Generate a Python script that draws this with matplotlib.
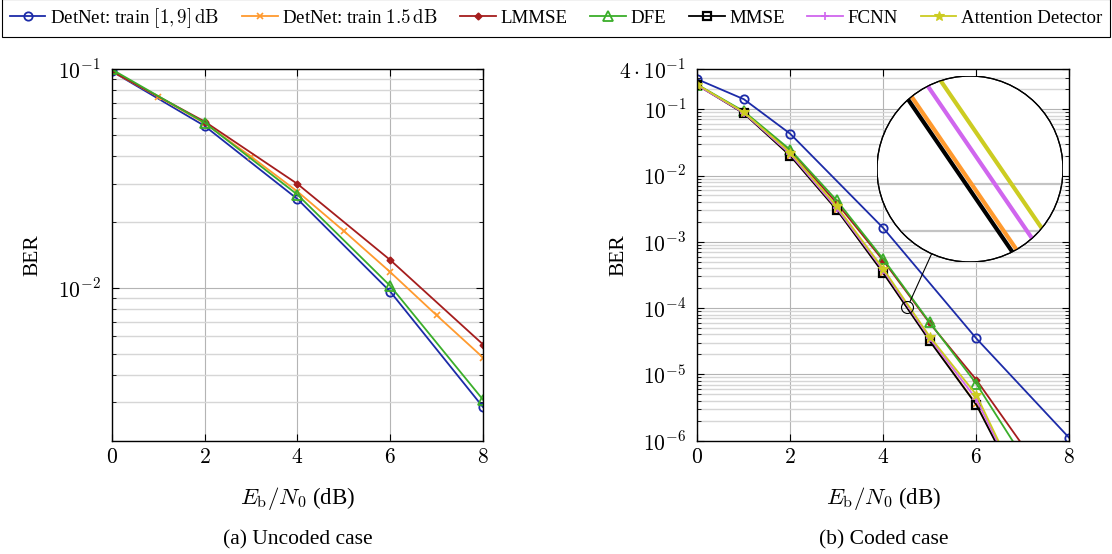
import matplotlib.pyplot as plt
import numpy as np
from matplotlib.lines import Line2D
from matplotlib.patches import Circle
from matplotlib.ticker import LogLocator, FixedLocator, FixedFormatter, NullFormatter, FuncFormatter

plt.rcParams['font.family'] = ['Liberation Serif', 'DejaVu Serif']
plt.rcParams['mathtext.fontset'] = 'cm'
plt.rcParams['font.size'] = 13

labels = ['DetNet: train $[1, 9]\\,\\mathrm{dB}$', 'DetNet: train $1.5\\,\\mathrm{dB}$',
          'LMMSE', 'DFE', 'MMSE', 'FCNN', 'Attention Detector']

# uncoded case
snr_even = [0, 2, 4, 6, 8]
snr_unc_all = [0, 1, 2, 3, 4, 5, 6, 7, 8]
unc_detnet_wide = [0.098, 0.0551, 0.0255, 0.0096, 0.00284]
unc_detnet_15 = [0.098, 0.075, 0.0567, 0.0399, 0.0276, 0.0182, 0.0118, 0.00748, 0.00479]
unc_lmmse = [0.098, 0.0577, 0.0299, 0.0134, 0.0055]
unc_dfe = [0.1, 0.057, 0.0267, 0.0102, 0.00307]

# coded case
snr_cod_detnet = [0, 1, 2, 4, 6, 8]
snr_cod = [0, 1, 2, 3, 4, 5, 6, 7]
cod_detnet_wide = [0.283, 0.1416, 0.0425, 1.61e-3, 3.49e-5, 1.1e-6]
cod_detnet_15 = [0.232, 0.0875, 0.0200, 3.06e-3, 3.42e-4, 3.25e-5, 3.55e-6, 1.6e-7]
cod_lmmse = [0.232, 0.090, 0.0232, 3.83e-3, 5.2e-4, 5.9e-5, 8.3e-6, 8.5e-7]
cod_dfe = [0.235, 0.093, 0.0244, 4.2e-3, 5.48e-4, 6.08e-5, 7.23e-6, 5.7e-7]
cod_mmse = [0.231, 0.0865, 0.0198, 3.03e-3, 3.37e-4, 3.18e-5, 3.49e-6, 1.53e-7]
cod_fcnn = [0.229, 0.088, 0.021, 3.2e-3, 3.7e-4, 3.5e-5, 4.25e-6, 1.6e-7]
cod_attention = [0.235, 0.090, 0.0222, 3.41e-3, 3.9e-4, 3.7e-5, 4.93e-6, 1.7e-7]

styles = [
    dict(color='#1c2ba8', marker='o', mfc='none', ms=6, mew=1.3),
    dict(color='#ff9a2e', marker='x', ms=4, mew=1.2),
    dict(color='#a51d1d', marker='D', ms=3.5, mew=1.0),
    dict(color='#3aae2a', marker='^', mfc='none', ms=7.5, mew=1.3),
    dict(color='black', marker='s', mfc='none', ms=6, mew=1.6),
    dict(color='#d066ee', marker='+', ms=5.5, mew=1.2),
    dict(color='#cccc22', marker='*', ms=7.5, mew=0.8),
]

fig = plt.figure(figsize=(11.12, 5.54), dpi=100)
ax1 = fig.add_axes([0.1004, 0.2045, 0.3342, 0.6704])
ax2 = fig.add_axes([0.6271, 0.2045, 0.3345, 0.6704])

unc = [(snr_even, unc_detnet_wide), (snr_unc_all, unc_detnet_15),
       (snr_even, unc_lmmse), (snr_even, unc_dfe)]
for i, (x, y) in enumerate(unc):
    ax1.plot(x, y, lw=1.3, label=labels[i], **styles[i])

cod = [(snr_cod_detnet, cod_detnet_wide), (snr_cod, cod_detnet_15), (snr_cod, cod_lmmse),
       (snr_cod, cod_dfe), (snr_cod, cod_mmse), (snr_cod, cod_fcnn), (snr_cod, cod_attention)]
handles = []
for i, (x, y) in enumerate(cod):
    h, = ax2.plot(x, y, lw=1.3, label=labels[i], **styles[i])
    handles.append(h)

for ax in (ax1, ax2):
    ax.set_yscale('log')
    ax.set_xlim(0, 8)
    ax.set_xticks([0, 2, 4, 6, 8])
    ax.xaxis.set_major_formatter(FuncFormatter(lambda v, p: f'${v:g}$'))
    ax.yaxis.set_minor_locator(LogLocator(base=10, subs=np.arange(2, 10), numticks=100))
    ax.yaxis.set_minor_formatter(NullFormatter())
    ax.grid(True, which='major', color='#b4b4b4', lw=0.8)
    ax.grid(True, which='minor', axis='y', color='#d6d6d6', lw=1.0)
    ax.set_axisbelow(True)
    ax.tick_params(which='both', direction='in', top=True, right=True, labelsize=15.5)
    ax.tick_params(which='major', length=5, width=0.8)
    ax.tick_params(which='minor', length=3, width=0.6)
    ax.tick_params(axis='x', pad=6)
    ax.tick_params(axis='y', pad=8)
    for s in ax.spines.values():
        s.set_linewidth(1.0)
    ax.set_xlabel('$E_\\mathrm{b}/N_0$ (dB)', fontsize=16.5)
    ax.set_ylabel('BER', fontsize=15.5)
    ax.xaxis.set_label_coords(0.5, -0.118)
ax1.yaxis.set_label_coords(-0.185, 0.5)
ax2.yaxis.set_label_coords(-0.186, 0.5)

ax1.set_ylim(2e-3, 0.1)
ax1.yaxis.set_major_locator(FixedLocator([1e-2, 1e-1]))
ax1.yaxis.set_major_formatter(FixedFormatter(['$10^{-2}$', '$10^{-1}$']))

ax2.set_ylim(1e-6, 0.4)
ax2.yaxis.set_major_locator(FixedLocator([1e-6, 1e-5, 1e-4, 1e-3, 1e-2, 1e-1, 0.4]))
ax2.yaxis.set_major_formatter(FixedFormatter(['$10^{-6}$', '$10^{-5}$', '$10^{-4}$', '$10^{-3}$',
                                              '$10^{-2}$', '$10^{-1}$', '$4\\cdot10^{-1}$']))

# magnified spy view
spy_x, spy_y = 4.52, 1.035e-4
r_small = 6.0
big_center = (970.0, 554 - 169.0)
r_big = 93.0
c_small = ax2.transData.transform((spy_x, spy_y))
lo = ax2.transData.inverted().transform(c_small - r_small)
hi = ax2.transData.inverted().transform(c_small + r_small)
ax2.plot(spy_x, spy_y, 'o', mfc='none', mec='black', ms=2 * r_small * 0.72, mew=0.8, zorder=5)

W, H = 1112.0, 554.0
axin = fig.add_axes([(big_center[0] - r_big) / W, (big_center[1] - r_big) / H, 2 * r_big / W, 2 * r_big / H])
axin.set_yscale('log')
axin.set_xlim(lo[0], hi[0])
axin.set_ylim(lo[1], hi[1])
axin.axis('off')
circ = Circle((0.5, 0.5), 0.5, transform=axin.transAxes, facecolor='white', edgecolor='black', lw=0.9, zorder=0)
axin.add_patch(circ)
for v in LogLocator(base=10, subs=np.arange(1, 10)).tick_values(lo[1], hi[1]):
    if lo[1] < v < hi[1]:
        gl = axin.axhline(v, color='#c4c4c4', lw=1.6, zorder=1)
        gl.set_clip_path(circ)
for i, (x, y) in enumerate(cod):
    ln, = axin.plot(x, y, color=styles[i]['color'], lw=3.0, zorder=2)
    ln.set_clip_path(circ)
ring = Circle((0.5, 0.5), 0.5, transform=axin.transAxes, facecolor='none', edgecolor='black', lw=0.9, zorder=3)
axin.add_patch(ring)

d = np.array(big_center) - c_small
u = d / np.hypot(*d)
p1 = (c_small + u * r_small) / [W, H]
p2 = (np.array(big_center) - u * r_big) / [W, H]
fig.add_artist(Line2D([p1[0], p2[0]], [p1[1], p2[1]], transform=fig.transFigure, color='black', lw=0.8))

leg = fig.legend(handles, labels, loc='center', bbox_to_anchor=(0.0018, 1 - 34 / H, 0.9964, 32 / H),
                 mode='expand', ncol=7, fancybox=False, edgecolor='black', framealpha=1,
                 borderaxespad=0, handlelength=1.9, handletextpad=0.25, columnspacing=0.2, fontsize=13.6)
leg.get_frame().set_linewidth(0.8)

fig.text(297.5 / W, 1 - 540 / H, '(a) Uncoded case', ha='center', va='center', fontsize=15.5)
fig.text(883.3 / W, 1 - 540 / H, '(b) Coded case', ha='center', va='center', fontsize=15.5)

fig.savefig('out.png', dpi=100)
